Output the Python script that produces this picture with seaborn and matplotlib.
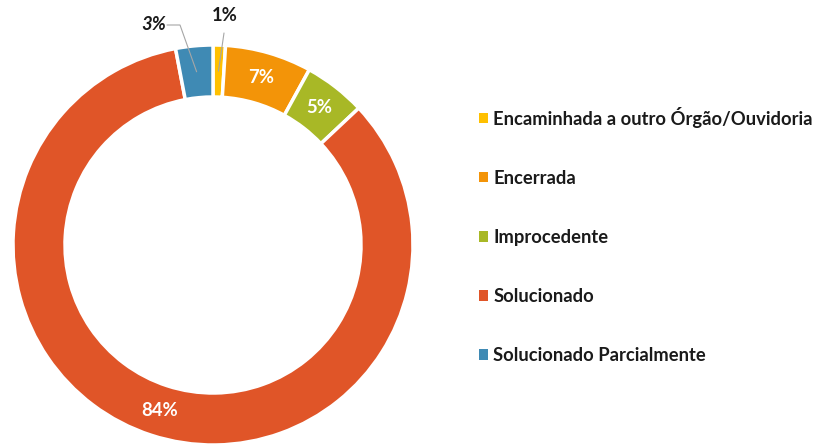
import numpy as np
import matplotlib
matplotlib.use("Agg")
import matplotlib.pyplot as plt
import seaborn as sns
from matplotlib.patches import Patch

categories = ["Encaminhada a outro Órgão/Ouvidoria", "Encerrada", "Improcedente",
              "Solucionado", "Solucionado Parcialmente"]
values = [1, 7, 5, 84, 3]
colors = ["#FFC000", "#F39408", "#A8B826", "#E05528", "#3F8AB4"]

sns.set_theme(style="white")
plt.rcParams['font.family'] = ['Lato', 'DejaVu Sans']

fig = plt.figure(figsize=(8.16, 4.48), dpi=100)
ax = fig.add_axes([13/816, 3/448, 400/816, 400/448])

wedges, _ = ax.pie(values, colors=colors, startangle=90, counterclock=False,
                   radius=1.0, wedgeprops=dict(width=0.26, edgecolor="white", linewidth=2.5))
ax.set_xlim(-1, 1)
ax.set_ylim(-1, 1)
ax.set_aspect("equal")
ax.axis("off")

total = sum(values)
cum = 0
fs = 13.3
for i, v in enumerate(values):
    mid = 90 - (cum + v / 2) / total * 360
    cum += v
    r = 0.87
    x, y = r * np.cos(np.radians(mid)), r * np.sin(np.radians(mid))
    lab = f"{v}%"
    if i == 0:
        ax.plot([x, 0.055], [y, 1.06], color="#A6A6A6", lw=0.8, clip_on=False)
        ax.text(0.06, 1.145, lab, ha="center", va="center", fontsize=fs, fontweight="bold",
                color="#1a1a1a", clip_on=False)
    elif i == 4:
        ax.plot([x, -0.165, -0.23], [y, 1.10, 1.10], color="#A6A6A6", lw=0.8, clip_on=False)
        ax.text(-0.235, 1.10, lab, ha="right", va="center", fontsize=fs, fontweight="bold",
                fontstyle="italic", color="#1a1a1a", clip_on=False)
    else:
        ax.text(x, y, lab, ha="center", va="center", fontsize=fs, fontweight="bold", color="white")

lfs = 13.2
handles = [Patch(facecolor=c, edgecolor="none") for c in colors]
leg = fig.legend(handles, categories, loc="upper left", bbox_to_anchor=(462/816, 1 - 90/448),
                 frameon=False, handlelength=0.5, handleheight=0.5, handletextpad=0.3,
                 labelspacing=2.3, prop=dict(family=['Lato', 'DejaVu Sans'], weight="bold", size=lfs))
for t in leg.get_texts():
    t.set_color("#1a1a1a")

fig.savefig("out.png", dpi=100)
